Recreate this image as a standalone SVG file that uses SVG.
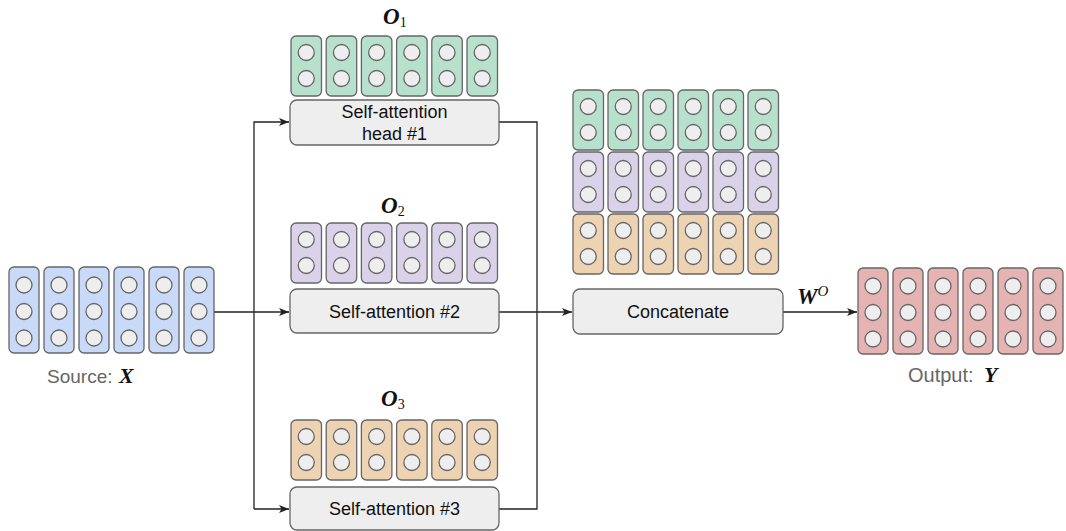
<svg xmlns="http://www.w3.org/2000/svg" xmlns:xlink="http://www.w3.org/1999/xlink" width="1066" height="531" viewBox="0 0 1066 531">
  <style>
    .cell { stroke: #666; stroke-width: 1.3; }
    .dot { fill: #eeeeee; stroke: #666; stroke-width: 1.3; }
    .blue { fill: #c9daf8; }
    .green { fill: #b7e1cd; }
    .purple { fill: #d9d2e9; }
    .orange { fill: #edd3b2; }
    .red { fill: #e6b3b3; }
    .box { fill: #eeeeee; stroke: #666; stroke-width: 1.3; }
    .boxlabel { font-family: "Liberation Sans", Arial, sans-serif; font-size: 18px; fill: #111; text-anchor: middle; }
    .caption { font-family: "Liberation Sans", Arial, sans-serif; fill: #666; }
    .math { font-family: "Liberation Serif", "Times New Roman", serif; font-weight: bold; font-style: italic; fill: #111; }
    .sub { font-family: "Liberation Serif", "Times New Roman", serif; fill: #111; }
    .wire { fill: none; stroke: #222; stroke-width: 1.3; }
  </style>
  <defs>
    <!-- vector with three entries -->
    <g id="vec3">
      <rect class="cell" x="0" y="0" width="30" height="86" rx="5"/>
      <circle class="dot" cx="15" cy="18" r="8"/>
      <circle class="dot" cx="15" cy="44.5" r="8"/>
      <circle class="dot" cx="15" cy="71" r="8"/>
    </g>
    <!-- vector with two entries -->
    <g id="vec2">
      <rect class="cell" x="0" y="0" width="30.5" height="60" rx="5"/>
      <circle class="dot" cx="15.25" cy="16.5" r="8"/>
      <circle class="dot" cx="15.25" cy="42.5" r="8"/>
    </g>
    <marker id="arrow" markerWidth="10" markerHeight="8" refX="10" refY="4" orient="auto" markerUnits="userSpaceOnUse">
      <path d="M0,0 L10,4 L0,8 L2.5,4 Z" fill="#222"/>
    </marker>
  </defs>

  <!-- connectors -->
  <g id="connectors">
    <path class="wire" d="M214,312 H289" marker-end="url(#arrow)"/>
    <path class="wire" d="M254,509 V122 H289" marker-end="url(#arrow)"/>
    <path class="wire" d="M254,509 H289" marker-end="url(#arrow)"/>
    <path class="wire" d="M499,122 H537 V509 H499"/>
    <path class="wire" d="M499,312 H572" marker-end="url(#arrow)"/>
    <path class="wire" d="M783,312 H857" marker-end="url(#arrow)"/>
  </g>

  <!-- source sequence X -->
  <g id="source">
    <use href="#vec3" x="9" y="267" class="blue"/>
    <use href="#vec3" x="44" y="267" class="blue"/>
    <use href="#vec3" x="79" y="267" class="blue"/>
    <use href="#vec3" x="114" y="267" class="blue"/>
    <use href="#vec3" x="149" y="267" class="blue"/>
    <use href="#vec3" x="184" y="267" class="blue"/>
    <text class="caption" x="47" y="383" font-size="19">Source:</text>
    <text class="math" x="119" y="383" font-size="22">X</text>
  </g>

  <!-- head 1 output -->
  <g id="o1">
    <use href="#vec2" x="291" y="36" class="green"/>
    <use href="#vec2" x="326.2" y="36" class="green"/>
    <use href="#vec2" x="361.4" y="36" class="green"/>
    <use href="#vec2" x="396.6" y="36" class="green"/>
    <use href="#vec2" x="431.8" y="36" class="green"/>
    <use href="#vec2" x="467" y="36" class="green"/>
    <text x="383" y="24"><tspan class="math" font-size="23">O</tspan><tspan class="sub" font-size="14" dy="3">1</tspan></text>
  </g>
  <g id="head1">
    <rect class="box" x="290" y="100" width="209" height="45" rx="7"/>
    <text class="boxlabel" x="394.5" y="118">Self-attention</text>
    <text class="boxlabel" x="394.5" y="140">head #1</text>
  </g>

  <!-- head 2 output -->
  <g id="o2">
    <use href="#vec2" x="291" y="223" class="purple"/>
    <use href="#vec2" x="326.2" y="223" class="purple"/>
    <use href="#vec2" x="361.4" y="223" class="purple"/>
    <use href="#vec2" x="396.6" y="223" class="purple"/>
    <use href="#vec2" x="431.8" y="223" class="purple"/>
    <use href="#vec2" x="467" y="223" class="purple"/>
    <text x="381" y="213"><tspan class="math" font-size="23">O</tspan><tspan class="sub" font-size="14" dy="3">2</tspan></text>
  </g>
  <g id="head2">
    <rect class="box" x="290" y="289" width="209" height="44" rx="7"/>
    <text class="boxlabel" x="394.5" y="318">Self-attention #2</text>
  </g>

  <!-- head 3 output -->
  <g id="o3">
    <use href="#vec2" x="291" y="420" class="orange"/>
    <use href="#vec2" x="326.2" y="420" class="orange"/>
    <use href="#vec2" x="361.4" y="420" class="orange"/>
    <use href="#vec2" x="396.6" y="420" class="orange"/>
    <use href="#vec2" x="431.8" y="420" class="orange"/>
    <use href="#vec2" x="467" y="420" class="orange"/>
    <text x="381" y="406"><tspan class="math" font-size="23">O</tspan><tspan class="sub" font-size="14" dy="3">3</tspan></text>
  </g>
  <g id="head3">
    <rect class="box" x="290" y="487" width="209" height="43" rx="7"/>
    <text class="boxlabel" x="394.5" y="515">Self-attention #3</text>
  </g>

  <!-- stacked head outputs -->
  <g id="stack">
    <use href="#vec2" x="573" y="90" class="green"/>
    <use href="#vec2" x="608" y="90" class="green"/>
    <use href="#vec2" x="643" y="90" class="green"/>
    <use href="#vec2" x="678" y="90" class="green"/>
    <use href="#vec2" x="713" y="90" class="green"/>
    <use href="#vec2" x="748" y="90" class="green"/>
    <use href="#vec2" x="573" y="152" class="purple"/>
    <use href="#vec2" x="608" y="152" class="purple"/>
    <use href="#vec2" x="643" y="152" class="purple"/>
    <use href="#vec2" x="678" y="152" class="purple"/>
    <use href="#vec2" x="713" y="152" class="purple"/>
    <use href="#vec2" x="748" y="152" class="purple"/>
    <use href="#vec2" x="573" y="214" class="orange"/>
    <use href="#vec2" x="608" y="214" class="orange"/>
    <use href="#vec2" x="643" y="214" class="orange"/>
    <use href="#vec2" x="678" y="214" class="orange"/>
    <use href="#vec2" x="713" y="214" class="orange"/>
    <use href="#vec2" x="748" y="214" class="orange"/>
  </g>
  <g id="concat">
    <rect class="box" x="573" y="289" width="210" height="45" rx="7"/>
    <text class="boxlabel" x="678" y="318">Concatenate</text>
  </g>

  <!-- output projection label -->
  <text x="797" y="304"><tspan class="math" font-size="23">W</tspan><tspan class="sub" font-style="italic" font-size="15" dy="-8">O</tspan></text>

  <!-- output sequence Y -->
  <g id="output">
    <use href="#vec3" x="858" y="268" class="red"/>
    <use href="#vec3" x="893" y="268" class="red"/>
    <use href="#vec3" x="928" y="268" class="red"/>
    <use href="#vec3" x="963" y="268" class="red"/>
    <use href="#vec3" x="998" y="268" class="red"/>
    <use href="#vec3" x="1033" y="268" class="red"/>
    <text class="caption" x="908" y="382" font-size="20">Output:</text>
    <text class="math" x="984" y="382" font-size="22">Y</text>
  </g>
</svg>
